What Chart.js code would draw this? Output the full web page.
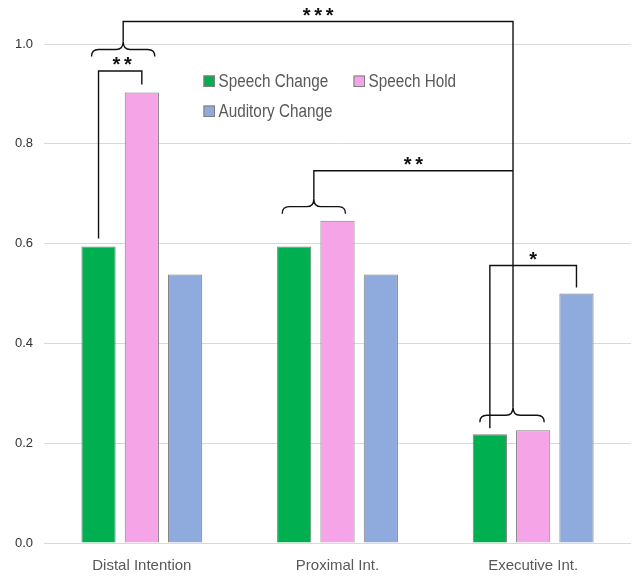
<!DOCTYPE html>
<html>
<head>
<meta charset="utf-8">
<script src="https://cdn.jsdelivr.net/npm/chart.js@4/dist/chart.umd.min.js"></script>
<style>
  html, body { margin: 0; padding: 0; background: #fff; }
  #wrap { width: 632px; height: 577px; position: relative; }
</style>
</head>
<body>
<div id="wrap"><canvas id="c" width="632" height="577"></canvas></div>
<script>
const categories = ['Distal Intention', 'Proximal Int.', 'Executive Int.'];
const seriesNames = ['Speech Change', 'Speech Hold', 'Auditory Change'];
const speechChange = [0.594, 0.594, 0.218];
const speechHold = [0.903, 0.646, 0.226];
const auditoryChange = [0.538, 0.538, 0.500];
const yTicks = [0.0, 0.2, 0.4, 0.6, 0.8, 1.0];
const sigLabels = ['**', '***', '**', '*'];

const colors = ['#00B050', '#F5A5E7', '#8FAADC'];
const FONT = "'Liberation Sans', Arial, sans-serif";

function drawBrace(ctx, x1, x2, y, xc) {
  const d = 7, h = 8, r = 7;
  ctx.beginPath();
  ctx.moveTo(x1, y + d);
  ctx.quadraticCurveTo(x1, y, x1 + r, y);
  ctx.lineTo(xc - r, y);
  ctx.quadraticCurveTo(xc, y, xc, y - h);
  ctx.quadraticCurveTo(xc, y, xc + r, y);
  ctx.lineTo(x2 - r, y);
  ctx.quadraticCurveTo(x2, y, x2, y + d);
  ctx.stroke();
  return y - h;
}

function drawStars(ctx, text, cx, lineY) {
  ctx.save();
  ctx.font = 'bold 20px ' + FONT;
  ctx.fillStyle = '#111';
  ctx.textAlign = 'center';
  ctx.textBaseline = 'alphabetic';
  const m = ctx.measureText('*');
  const cy = lineY - 10;
  const base = cy + (m.actualBoundingBoxAscent - m.actualBoundingBoxDescent) / 2;
  const step = 11.5;
  const n = text.length;
  for (let i = 0; i < n; i++) {
    ctx.fillText('*', cx + (i - (n - 1) / 2) * step, base);
  }
  ctx.restore();
}

const annotations = {
  id: 'annotations',
  afterDatasetsDraw(chart) {
    const ctx = chart.ctx;
    const ys = chart.scales.y;
    const Y = v => ys.getPixelForValue(v);
    const bar = (ds, cat) => chart.getDatasetMeta(ds).data[cat];
    ctx.save();
    ctx.strokeStyle = '#111';
    ctx.lineWidth = 1.4;
    ctx.lineJoin = 'miter';

    // Distal: Speech Change vs Speech Hold bracket
    const a = bar(0, 0), b = bar(1, 0);
    const t1 = Y(0.946);
    ctx.beginPath();
    ctx.moveTo(a.x, a.y - 8); ctx.lineTo(a.x, t1); ctx.lineTo(b.x, t1); ctx.lineTo(b.x, b.y - 8);
    ctx.stroke();
    drawStars(ctx, sigLabels[0], (a.x + b.x) / 2 + 2, t1);

    // Braces
    const dx1 = a.x - 7, dx2 = b.x + 13, dxc = (dx1 + dx2) / 2;
    const dPeak = drawBrace(ctx, dx1, dx2, Y(0.989), dxc);

    const pa = bar(0, 1), pb = bar(1, 1);
    const px1 = pa.x - 12, px2 = pb.x + 8, pxc = (px1 + px2) / 2;
    const pPeak = drawBrace(ctx, px1, px2, Y(0.674), pxc);

    const ea = bar(0, 2), eb = bar(1, 2), ec = bar(2, 2);
    const ex1 = ea.x - 10, ex2 = eb.x + 11, exc = (ex1 + ex2) / 2 + 1;
    const ePeak = drawBrace(ctx, ex1, ex2, Y(0.256), exc);

    // Trunk: Distal brace -> Executive brace
    const tTop = Y(1.045);
    ctx.beginPath();
    ctx.moveTo(dxc, dPeak); ctx.lineTo(dxc, tTop); ctx.lineTo(exc, tTop); ctx.lineTo(exc, ePeak);
    ctx.stroke();
    drawStars(ctx, sigLabels[1], (dxc + exc) / 2, tTop);

    // Proximal brace -> trunk
    const tP = Y(0.746);
    ctx.beginPath();
    ctx.moveTo(pxc, pPeak); ctx.lineTo(pxc, tP); ctx.lineTo(exc, tP);
    ctx.stroke();
    drawStars(ctx, sigLabels[2], (pxc + exc) / 2, tP);

    // Executive: Speech Change vs Auditory Change
    const tE = Y(0.556);
    ctx.beginPath();
    ctx.moveTo(ea.x, ea.y - 6); ctx.lineTo(ea.x, tE); ctx.lineTo(ec.x, tE); ctx.lineTo(ec.x, ec.y - 6);
    ctx.stroke();
    drawStars(ctx, sigLabels[3], (ea.x + ec.x) / 2, tE);

    ctx.restore();
  },
  afterDraw(chart) {
    // Custom in-plot legend
    const ctx = chart.ctx;
    const ca = chart.chartArea;
    const items = [
      { x: ca.left + 159.5, y: ca.top + 37, i: 0 },
      { x: ca.left + 309.5, y: ca.top + 37, i: 1 },
      { x: ca.left + 159.5, y: ca.top + 67, i: 2 }
    ];
    ctx.save();
    ctx.font = '18px ' + FONT;
    ctx.textBaseline = 'middle';
    ctx.textAlign = 'left';
    items.forEach(it => {
      const ds = chart.data.datasets[it.i];
      ctx.fillStyle = ds.backgroundColor;
      ctx.fillRect(it.x, it.y - 5.5, 11.5, 11.5);
      ctx.strokeStyle = '#7f7f7f';
      ctx.lineWidth = 1;
      ctx.strokeRect(it.x + 0.5, it.y - 5, 10.5, 10.5);
      ctx.fillStyle = '#595959';
      ctx.save();
      ctx.translate(it.x + 15, it.y + 1);
      ctx.scale(0.85, 1);
      ctx.fillText(ds.label, 0, 0);
      ctx.restore();
    });
    ctx.restore();
  }
};

const datasets = [speechChange, speechHold, auditoryChange].map((vals, i) => ({
  label: seriesNames[i],
  data: vals,
  backgroundColor: colors[i],
  borderColor: '#7f7f7f',
  borderWidth: 1,
  categoryPercentage: 0.664,
  barPercentage: 0.79
}));

new Chart(document.getElementById('c'), {
  type: 'bar',
  data: { labels: categories, datasets },
  plugins: [annotations],
  options: {
    responsive: false,
    animation: false,
    devicePixelRatio: 1,
    layout: { padding: { top: 44, right: 1, left: 0, bottom: 0 } },
    plugins: { legend: { display: false }, tooltip: { enabled: false } },
    scales: {
      x: {
        grid: { display: false, drawTicks: false },
        border: { display: false },
        ticks: { font: { family: FONT, size: 15 }, color: '#595959', padding: 14 },
        afterFit(s) { s.height = 34; }
      },
      y: {
        min: 0, max: 1,
        afterBuildTicks(s) { s.ticks = yTicks.map(v => ({ value: v })); },
        grid: { color: '#d9d9d9', lineWidth: 1, drawTicks: false },
        border: { display: false },
        ticks: {
          font: { family: FONT, size: 13 }, color: '#333', padding: 11,
          callback: v => Number(v).toFixed(1)
        },
        afterFit(s) { s.width = 44; }
      }
    }
  }
});
</script>
</body>
</html>
